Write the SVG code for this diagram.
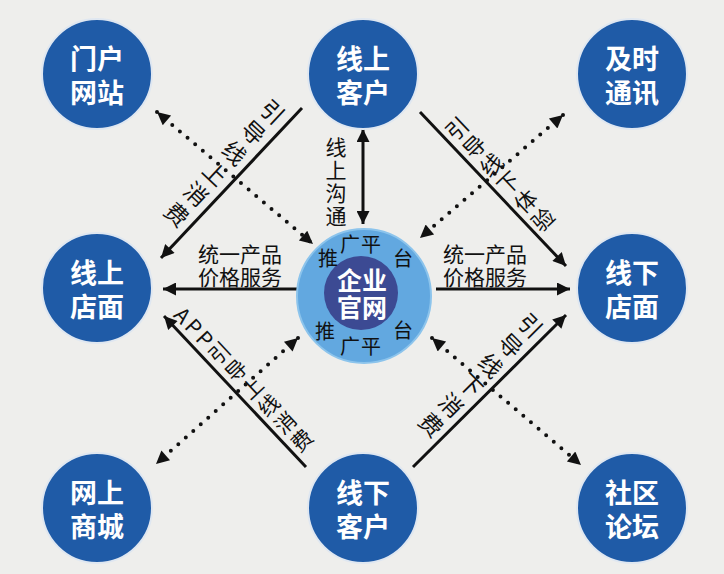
<svg xmlns="http://www.w3.org/2000/svg" width="724" height="574" viewBox="0 0 724 574">
<style>
.node circle{fill:#1f5ba7;stroke:#dfe7f1;stroke-width:2}
.nt{font-family:"Noto Sans CJK SC","Noto Sans",sans-serif;font-weight:700;font-size:27px;fill:#ffffff;text-anchor:middle;dominant-baseline:central}
.lb{font-family:"Noto Sans CJK SC","Noto Sans",sans-serif;font-size:21px;fill:#111111;text-anchor:middle;dominant-baseline:central}
.pt{font-family:"Noto Sans CJK SC","Noto Sans",sans-serif;font-size:20px;fill:#111111;text-anchor:middle;dominant-baseline:central}
.dl{font-family:"Noto Sans CJK SC","Noto Sans",sans-serif;font-size:22px;fill:#111111;text-anchor:middle;dominant-baseline:central;writing-mode:vertical-rl}
.solid{stroke:#111111;stroke-width:3;fill:none}
.dot{stroke:#111111;stroke-width:4;stroke-linecap:round;stroke-dasharray:0 10;fill:none}
</style>
<defs>
<marker id="ah" viewBox="0 0 10 10" refX="10" refY="5" markerUnits="userSpaceOnUse" markerWidth="16" markerHeight="13" orient="auto-start-reverse">
<path d="M0,0 L10,5 L0,10 z" fill="#111111"/>
</marker>
</defs>
<rect x="0" y="0" width="724" height="574" fill="#eeeeec"/>

<g id="connectors">
<path class="solid" d="M302,108 L161,258" marker-end="url(#ah)"/>
<path class="solid" d="M420,112 L566,266" marker-end="url(#ah)"/>
<path class="solid" d="M306,467 L164,316" marker-end="url(#ah)"/>
<path class="solid" d="M413,467 L566,315" marker-end="url(#ah)"/>
<path class="solid" d="M363,129 L363,224" marker-start="url(#ah)" marker-end="url(#ah)"/>
<path class="solid" d="M297,289 L163,289" marker-end="url(#ah)"/>
<path class="solid" d="M436,289 L570,289" marker-end="url(#ah)"/>
<path class="dot" d="M157,112 L313,244" marker-start="url(#ah)" marker-end="url(#ah)"/>
<path class="dot" d="M563,115 L420,238" marker-start="url(#ah)" marker-end="url(#ah)"/>
<path class="dot" d="M298,338 L156,464" marker-start="url(#ah)" marker-end="url(#ah)"/>
<path class="dot" d="M432,338 L581,465" marker-start="url(#ah)" marker-end="url(#ah)"/>
<text class="dl" transform="translate(223,165) rotate(43)" x="0" y="0" style="font-size:23px;letter-spacing:5px">引导线上消费</text>
<text class="dl" transform="translate(501,175) rotate(-43.5)" x="0" y="0" style="letter-spacing:3px">引导线下体验</text>
<text class="dl" transform="translate(245,380) rotate(-43.2)" x="0" y="0" style="font-size:21px;letter-spacing:3px">APP引导上线消费</text>
<text class="dl" transform="translate(479,377) rotate(45)" x="0" y="0" style="font-size:23px;letter-spacing:5px">引导线下消费</text>
<text class="pt" style="font-size:21px" x="336 336 336 336" y="146 169 192 215">线上沟通</text>
<text class="lb" x="240" y="253">统一产品</text>
<text class="lb" x="240" y="276">价格服务</text>
<text class="lb" x="485" y="253">统一产品</text>
<text class="lb" x="485" y="276">价格服务</text>
</g>

<g id="center">
<circle cx="364" cy="296" r="67" fill="#62a8e0" stroke="#8cc4ec" stroke-width="2"/>
<circle cx="361" cy="293" r="37" fill="#3c4a93"/>
<text class="nt" style="font-size:25px" x="362" y="279">企业</text>
<text class="nt" style="font-size:25px" x="362" y="306">官网</text>
<text class="pt" x="328 350 371 403" y="257 243 243 257">推广平台</text>
<text class="pt" x="325 350 371 403" y="330 345 345 329">推广平台</text>
</g>

<g id="n-menhu" class="node"><circle cx="97" cy="74" r="55"/><text class="nt" x="97" y="57">门户</text><text class="nt" x="97" y="91">网站</text></g>
<g id="n-xskh" class="node"><circle cx="363" cy="74" r="55"/><text class="nt" x="363" y="57">线上</text><text class="nt" x="363" y="91">客户</text></g>
<g id="n-jstx" class="node"><circle cx="632" cy="74" r="55"/><text class="nt" x="632" y="57">及时</text><text class="nt" x="632" y="91">通讯</text></g>
<g id="n-xsdm" class="node"><circle cx="97" cy="288" r="55"/><text class="nt" x="97" y="271">线上</text><text class="nt" x="97" y="305">店面</text></g>
<g id="n-xxdm" class="node"><circle cx="632" cy="288" r="55"/><text class="nt" x="632" y="271">线下</text><text class="nt" x="632" y="305">店面</text></g>
<g id="n-wssc" class="node"><circle cx="97" cy="508" r="55"/><text class="nt" x="97" y="491">网上</text><text class="nt" x="97" y="525">商城</text></g>
<g id="n-xxkh" class="node"><circle cx="363" cy="508" r="55"/><text class="nt" x="363" y="491">线下</text><text class="nt" x="363" y="525">客户</text></g>
<g id="n-sqlt" class="node"><circle cx="632" cy="508" r="55"/><text class="nt" x="632" y="491">社区</text><text class="nt" x="632" y="525">论坛</text></g>
</svg>
